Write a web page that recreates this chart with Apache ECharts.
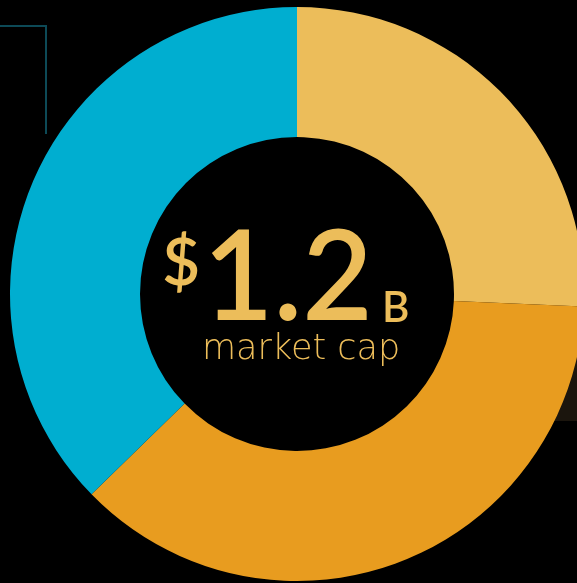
<!DOCTYPE html>
<html>
<head>
<meta charset="utf-8">
<script src="https://cdn.jsdelivr.net/npm/echarts@6/dist/echarts.min.js"></script>
<style>
  html, body { margin: 0; padding: 0; background: #000; }
  #chart { width: 577px; height: 583px; }
</style>
</head>
<body>
<div id="chart"></div>
<script>
// share of market cap by segment
const segments = ['Segment A', 'Segment B', 'Segment C']
const shares = [25.7, 37.0, 37.3]
const colors = ['#ECBD5A', '#E89C1F', '#00AED0']

const gold = '#ECBD5A'
const font = 'Lato'

const chart = echarts.init(document.getElementById('chart'))

chart.setOption({
  backgroundColor: '#000',
  animation: false,
  graphic: [
    // dark panel behind the right edge
    { type: 'rect', z: -1, shape: { x: 540, y: 300, width: 40, height: 121 }, style: { fill: '#1B150D' } },
    // teal corner line top-left
    { type: 'polyline', z: -1, shape: { points: [[0, 26], [46, 26], [46, 134]] }, style: { stroke: '#0D4A57', lineWidth: 2, fill: null } },
    { type: 'text', z: 10, left: 162, top: 231, style: { text: '$', fill: gold, font: '600 66px ' + font } },
    { type: 'text', z: 10, x: 203, y: 216, scaleX: 0.965, style: { text: '1.2', fill: gold, font: '600 126px ' + font } },
    { type: 'text', z: 10, left: 382, top: 287, style: { text: 'B', fill: gold, font: '600 42px ' + font } },
    { type: 'text', z: 10, left: 202, top: 332, style: { text: 'market cap', fill: gold, font: '300 35px "DejaVu Sans"' } }
  ],
  series: [{
    type: 'pie',
    center: [297, 294],
    radius: [157, 287],
    startAngle: 90,
    clockwise: true,
    label: { show: false },
    labelLine: { show: false },
    emphasis: { disabled: true },
    itemStyle: { borderWidth: 0 },
    data: segments.map((name, i) => ({ name, value: shares[i], itemStyle: { color: colors[i] } }))
  }]
})
</script>
</body>
</html>
